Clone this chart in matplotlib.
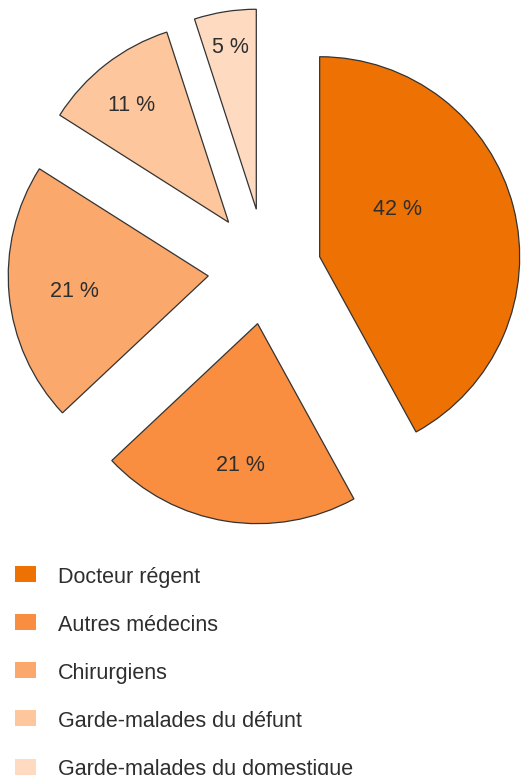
import matplotlib
matplotlib.use('Agg')
import matplotlib.pyplot as plt
import numpy as np
from matplotlib.patches import Patch
from matplotlib.legend_handler import HandlerPatch

# ---- data ----
categories = ["Docteur régent", "Autres médecins", "Chirurgiens",
              "Garde-malades du défunt", "Garde-malades du domestique"]
values = [42, 21, 21, 11, 5]
pct_labels = ["42 %", "21 %", "21 %", "11 %", "5 %"]

# ---- style ----
colors = ["#EE7203", "#F98E40", "#FBA86C", "#FDC69C", "#FEDBC0"]
explode = [0.277, 0.269, 0.29, 0.305, 0.31]
label_dist = [0.46, 0.70, 0.67, 0.77, 0.83]
label_angle_shift = [18, 2, 0, 1.5, 0]   # degrees, counter-clockwise from mid-angle
text_color = "#2e2e2e"
fs = 15.5

plt.rcParams['font.family'] = ['Liberation Sans', 'DejaVu Sans']

fig = plt.figure(figsize=(5.27, 7.75), dpi=100)
ax = fig.add_axes([0, 0, 1, 1])
wedges, _ = ax.pie(values, colors=colors, explode=explode, startangle=90,
                   counterclock=False, radius=1,
                   wedgeprops=dict(edgecolor='#333333', linewidth=0.9))
ax.set_aspect('auto')
ax.set_xlim(-1.33, 1.305)
ax.set_ylim(-2.5225, 1.3525)
ax.axis('off')

for w, lab, d, sh in zip(wedges, pct_labels, label_dist, label_angle_shift):
    mid = np.deg2rad((w.theta1 + w.theta2) / 2 + sh)
    cx, cy = w.center
    ax.annotate(lab, (cx + d * w.r * np.cos(mid), cy + d * w.r * np.sin(mid)),
                xytext=(0, -2.5), textcoords='offset pixels',
                ha='center', va='center', fontsize=fs, color=text_color)

handles = [Patch(facecolor=c, edgecolor='none') for c in colors]
fig.legend(handles, categories, loc='upper left',
           bbox_to_anchor=(15 / 527, 1 - 566 / 775),
           frameon=False, fontsize=fs, handlelength=0.98, handleheight=0.98,
           handletextpad=1.0, labelspacing=1.22, borderpad=0, borderaxespad=0,
           labelcolor=text_color,
           handler_map={Patch: HandlerPatch(ypad=0.14)})

fig.savefig('out.png', dpi=100)
